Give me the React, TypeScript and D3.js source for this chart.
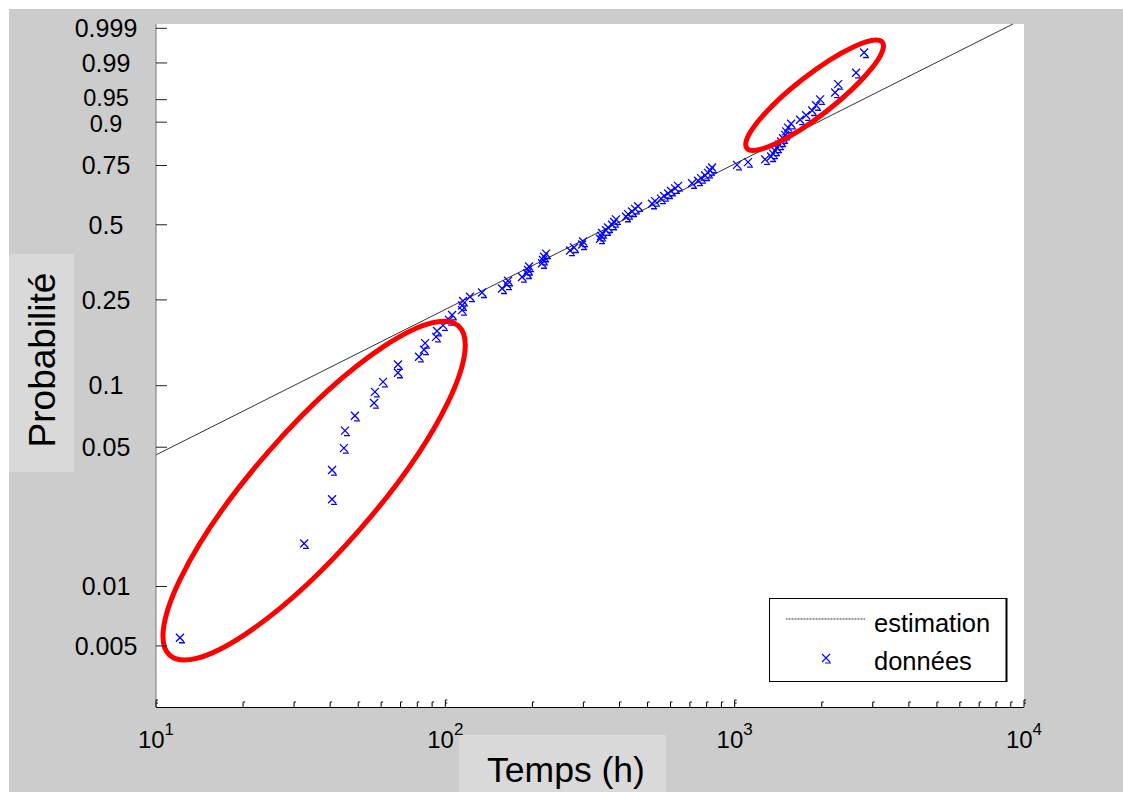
import React from 'react';
import * as d3 from 'd3';

const timeHours = [
  12.1, 32.5, 40.6, 40.6, 44.6, 45.0, 48.7, 56.7, 57.1, 60.9,
  68.6, 68.6, 81.1, 84.4, 85.1, 92.9, 93.6, 98.2, 103, 105.5,
  114.2, 114.2, 115.1, 121.7, 133.9, 157, 163.4, 164.7, 184.1, 191.6,
  193.1, 194.7, 215.9, 217.6, 219.4, 222.9, 269.8, 278.6, 296.9, 299.2,
  342.5, 345.3, 348.1, 359.4, 365.2, 377, 383, 389, 421.3, 428.1,
  441.9, 452.6, 463.5, 518.2, 530.7, 556.6, 570.2, 588.6, 602.8, 622.3,
  637.4, 712.4, 747.2, 765.2, 790.1, 809.1, 822.1, 835.5, 1019, 1112,
  1274, 1336, 1357, 1379, 1401, 1424, 1447, 1470, 1494, 1506,
  1530, 1567, 1683, 1766, 1852, 1912, 1974, 2224, 2278, 2628,
  2801,
];

// Plotting probabilities of each point
const probabilities = [
  0.0055, 0.0165, 0.0275, 0.0385, 0.0495, 0.0604, 0.0714, 0.0824, 0.0934, 0.1044,
  0.1154, 0.1264, 0.1374, 0.1484, 0.1593, 0.1703, 0.1813, 0.1923, 0.2033, 0.2143,
  0.2253, 0.2363, 0.2473, 0.2582, 0.2692, 0.2802, 0.2912, 0.3022, 0.3132, 0.3242,
  0.3352, 0.3462, 0.3571, 0.3681, 0.3791, 0.3901, 0.4011, 0.4121, 0.4231, 0.4341,
  0.4451, 0.4560, 0.4670, 0.4780, 0.4890, 0.5000, 0.5110, 0.5220, 0.5330, 0.5440,
  0.5549, 0.5659, 0.5769, 0.5879, 0.5989, 0.6099, 0.6209, 0.6319, 0.6429, 0.6538,
  0.6648, 0.6758, 0.6868, 0.6978, 0.7088, 0.7198, 0.7308, 0.7418, 0.7527, 0.7637,
  0.7747, 0.7857, 0.7967, 0.8077, 0.8187, 0.8297, 0.8407, 0.8516, 0.8626, 0.8736,
  0.8846, 0.8956, 0.9066, 0.9176, 0.9286, 0.9396, 0.9505, 0.9615, 0.9725, 0.9835,
  0.9945,
];

// Estimated Weibull line (two ends)
const estimationTimes = [10, 9160];
const estimationProbs = [0.0458, 0.9993];

const yTickValues = [0.005, 0.01, 0.05, 0.1, 0.25, 0.5, 0.75, 0.9, 0.95, 0.99, 0.999];
const yTickLabels = ['0.005', '0.01', '0.05', '0.1', '0.25', '0.5', '0.75', '0.9', '0.95', '0.99', '0.999'];
const xMajorTicks = [10, 100, 1000, 10000];
const xMajorExponents = ['1', '2', '3', '4'];

// Annotation ellipses (centre in data units)
const highlightTimes = [35.2, 1889];
const highlightProbs = [0.0304, 0.9574];

const legendLabels = ['estimation', 'données'];
const xLabel = 'Temps (h)';
const yLabel = 'Probabilité';

const FONT = '"Liberation Sans", Arial, Helvetica, sans-serif';
const weib = (p: number) => Math.log(-Math.log(1 - p));

export default function App() {
  const left = 156, right = 1024, top = 24, bottom = 707;
  const x = d3.scaleLog().domain([10, 10000]).range([left, right]);
  const yW = d3.scaleLinear().domain([weib(0.00245), weib(0.9993)]).range([bottom, top]);
  const y = (p: number) => yW(weib(p));

  const minorTicks = x.ticks().filter((t) => !xMajorTicks.includes(t));

  const markerPath = (cx: number, cy: number) =>
    `M${cx - 4},${cy - 4}L${cx + 4},${cy + 4}M${cx + 4},${cy - 4}L${cx - 4},${cy + 4}M${cx - 1},${cy + 5}H${cx + 5}`;

  const lineGen = d3
    .line<number>()
    .x((_, i) => x(estimationTimes[i]))
    .y((_, i) => y(estimationProbs[i]));

  const ellipseSpecs = [
    { rx: 219, ry: 60, angle: -48.8 },
    { rx: 86, ry: 20, angle: -38 },
  ];

  // crowded tick labels 0.95 / 0.9: slightly smaller and nudged apart
  const yLabelNudge = (lbl: string) => (lbl === '0.95' ? -2 : lbl === '0.9' ? 2 : 0);
  const yLabelSize = (lbl: string) => (lbl === '0.95' || lbl === '0.9' ? 23.5 : 25);

  return (
    <svg
      width={1123}
      height={792}
      style={{ position: 'absolute', left: 0, top: 0, background: '#ffffff' }}
      fontFamily={FONT}
    >
      <rect x={9} y={9} width={1114} height={783} fill="#cccccc" />
      <rect x={left} y={top} width={right - left} height={bottom - top} fill="#ffffff" />

      {/* estimation line */}
      <path d={lineGen(estimationTimes) || ''} fill="none" stroke="#333333" strokeWidth={1} />

      {/* data markers */}
      {timeHours.map((t, i) => (
        <path key={i} d={markerPath(x(t), y(probabilities[i]))} fill="none" stroke="#0000ff" strokeWidth={1.3} />
      ))}

      {/* highlight ellipses */}
      {highlightTimes.map((t, i) => {
        const cx = x(t);
        const cy = y(highlightProbs[i]);
        const s = ellipseSpecs[i];
        return (
          <ellipse
            key={i}
            cx={cx}
            cy={cy}
            rx={s.rx}
            ry={s.ry}
            transform={`rotate(${s.angle} ${cx} ${cy})`}
            fill="none"
            stroke="#ff0000"
            strokeWidth={5}
          />
        );
      })}

      {/* axes */}
      <line x1={left} y1={top} x2={left} y2={bottom} stroke="#777777" strokeWidth={1} />
      <line x1={left} y1={bottom + 0.5} x2={right} y2={bottom + 0.5} stroke="#000000" strokeWidth={1} />

      {yTickValues.map((p, i) => (
        <g key={i}>
          <line x1={left} x2={left + 11} y1={y(p)} y2={y(p)} stroke="#222222" strokeWidth={1} />
          <text
            x={106}
            y={y(p) + yLabelNudge(yTickLabels[i])}
            dy="0.35em"
            textAnchor="middle"
            fontSize={yLabelSize(yTickLabels[i])}
            fill="#000"
          >
            {yTickLabels[i]}
          </text>
        </g>
      ))}

      {minorTicks.map((t, i) => (
        <path
          key={i}
          d={`M${x(t)},${bottom}V${bottom - 5}H${x(t) + 2}`}
          fill="none"
          stroke="#000"
          strokeWidth={1}
        />
      ))}
      {xMajorTicks.map((t, i) => (
        <g key={i}>
          <path d={`M${x(t)},${bottom}V${bottom - 7}H${x(t) + 2}M${x(t)},${bottom - 4}H${x(t) + 2}`} fill="none" stroke="#000" strokeWidth={1} />
          <text x={x(t)} y={748} textAnchor="middle" fontSize={24} fill="#000">
            10
            <tspan dy={-13} fontSize={17}>
              {xMajorExponents[i]}
            </tspan>
          </text>
        </g>
      ))}

      {/* axis labels */}
      <rect x={9} y={254} width={65} height={218} fill="#d9d9d9" />
      <text transform="translate(55,360) rotate(-90)" textAnchor="middle" fontSize={37} fill="#000">
        {yLabel}
      </text>
      <rect x={459} y={735} width={207} height={57} fill="#d9d9d9" />
      <text x={566} y={782} textAnchor="middle" fontSize={35.5} fill="#000">
        {xLabel}
      </text>

      {/* legend */}
      <rect x={769.5} y={598.5} width={237} height={83} fill="#ffffff" stroke="#000" strokeWidth={1} />
      <line x1={1006.5} y1={598} x2={1006.5} y2={682} stroke="#000" strokeWidth={2} />
      <line x1={786} x2={865} y1={619} y2={619} stroke="#333" strokeWidth={1} strokeDasharray="1 0.5" />
      <text x={874} y={632} fontSize={25.5} fill="#000">
        {legendLabels[0]}
      </text>
      <path d={markerPath(826, 658)} fill="none" stroke="#0000ff" strokeWidth={1.1} />
      <text x={874} y={670} fontSize={25.5} fill="#000">
        {legendLabels[1]}
      </text>
    </svg>
  );
}
